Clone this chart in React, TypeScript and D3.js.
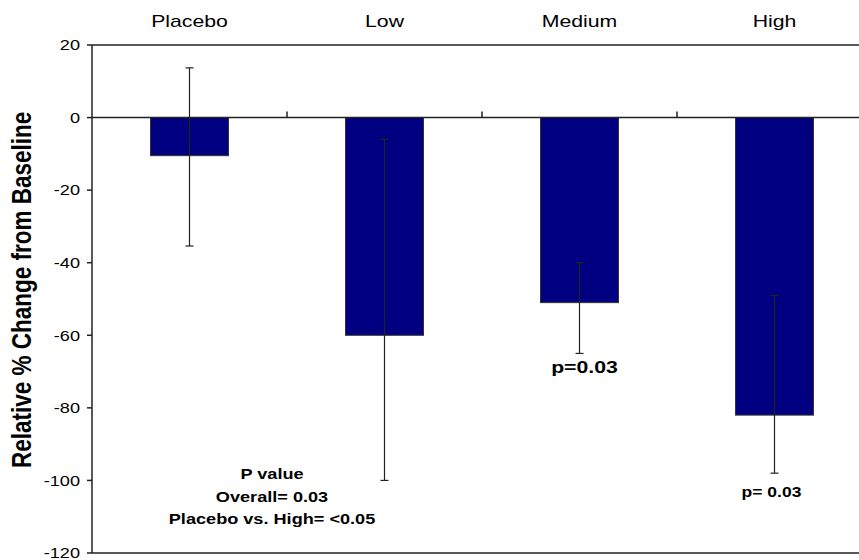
import React from 'react';
import * as d3 from 'd3';

// Data
const groups = ['Placebo', 'Low', 'Medium', 'High'];
const meanChange = [-10.5, -60, -51, -82];
const errUpper = [13.7, -6, -40, -49];
const errLower = [-35.4, -100, -65, -98];
const yTicks = [20, 0, -20, -40, -60, -80, -100, -120];
const pNotes = ['P value', 'Overall= 0.03', 'Placebo vs. High= <0.05'];

const width = 859;
const height = 560;
const margin = { top: 45, right: -13, bottom: 7, left: 92 };
const innerWidth = width - margin.left - margin.right;
const innerHeight = height - margin.top - margin.bottom;
const font = 'Liberation Sans, Arial, sans-serif';
// the reference is stretched sideways a little, text included
const stretch = 1.25;

function Label(props: { x: number; y: number; size: number; bold?: boolean; anchor?: string; dy?: string; children: React.ReactNode }) {
  return (
    <text
      transform={`translate(${props.x}, ${props.y}) scale(${stretch}, 1)`}
      textAnchor={props.anchor || 'middle'}
      dy={props.dy}
      fontSize={props.size}
      fontWeight={props.bold ? 'bold' : 'normal'}
      fill="#000"
    >
      {props.children}
    </text>
  );
}

export default function App() {
  // Scales
  const xScale = d3.scaleBand().domain(groups).range([0, innerWidth]).paddingInner(0.6).paddingOuter(0.3);
  const yScale = d3.scaleLinear().domain([-120, 20]).range([innerHeight, 0]);
  const band = innerWidth / groups.length;
  const cx = (g: string) => (xScale(g) as number) + xScale.bandwidth() / 2;

  return (
    <svg width={width} height={height} style={{ position: 'absolute', left: 0, top: 0 }} fontFamily={font}>
      <rect width={width} height={height} fill="#fff" />

      {/* Category labels along the top */}
      {groups.map((g) => (
        <Label key={g} x={margin.left + cx(g)} y={27} size={17}>
          {g}
        </Label>
      ))}

      {/* Y axis title */}
      <text
        transform={`translate(31, ${margin.top + yScale(-47.5)}) rotate(-90) scale(1, ${stretch})`}
        textAnchor="middle"
        fontSize={22.5}
        fontWeight="bold"
        fill="#000"
      >
        Relative % Change from Baseline
      </text>

      <g transform={`translate(${margin.left}, ${margin.top})`}>
        {/* Frame: top, bottom, left */}
        <line x1={0} x2={innerWidth} y1={0} y2={0} stroke="#222" strokeWidth={1.5} />
        <line x1={0} x2={innerWidth} y1={innerHeight} y2={innerHeight} stroke="#222" strokeWidth={1.5} />
        <line x1={0} x2={0} y1={0} y2={innerHeight} stroke="#222" strokeWidth={1.5} />

        {/* Left ticks and labels */}
        {yTicks.map((t) => (
          <g key={t}>
            <line x1={-5} x2={0} y1={yScale(t)} y2={yScale(t)} stroke="#222" strokeWidth={1.5} />
            <Label x={-12} y={yScale(t)} dy="0.36em" size={14.5} anchor="end">
              {t}
            </Label>
          </g>
        ))}

        {/* Bars */}
        {groups.map((g, i) => (
          <rect
            key={g}
            x={xScale(g)}
            y={yScale(0)}
            width={xScale.bandwidth()}
            height={yScale(meanChange[i]) - yScale(0)}
            fill="#000080"
            stroke="#333"
            strokeWidth={1}
          />
        ))}

        {/* Zero line with category ticks */}
        <line x1={0} x2={innerWidth} y1={yScale(0)} y2={yScale(0)} stroke="#222" strokeWidth={1.5} />
        {groups.map((g, i) => (
          <line
            key={g}
            x1={band * (i + 1)}
            x2={band * (i + 1)}
            y1={yScale(0)}
            y2={yScale(0) - 6}
            stroke="#222"
            strokeWidth={1.5}
          />
        ))}

        {/* Error bars */}
        {groups.map((g, i) => (
          <g key={g} stroke="#222" strokeWidth={1.2}>
            <line x1={cx(g)} x2={cx(g)} y1={yScale(errUpper[i])} y2={yScale(errLower[i])} />
            <line x1={cx(g) - 4} x2={cx(g) + 4} y1={yScale(errUpper[i])} y2={yScale(errUpper[i])} />
            <line x1={cx(g) - 4} x2={cx(g) + 4} y1={yScale(errLower[i])} y2={yScale(errLower[i])} />
          </g>
        ))}

        {/* Annotations */}
        <Label x={cx('Medium') + 5} y={373 - margin.top} size={17} bold>
          p=0.03
        </Label>
        <Label x={cx('High') - 3} y={497 - margin.top} size={14} bold>
          p= 0.03
        </Label>
        {pNotes.map((n, i) => (
          <Label key={n} x={272 - margin.left} y={479 - margin.top + i * 22.7} size={14.5} bold>
            {n}
          </Label>
        ))}
      </g>
    </svg>
  );
}
